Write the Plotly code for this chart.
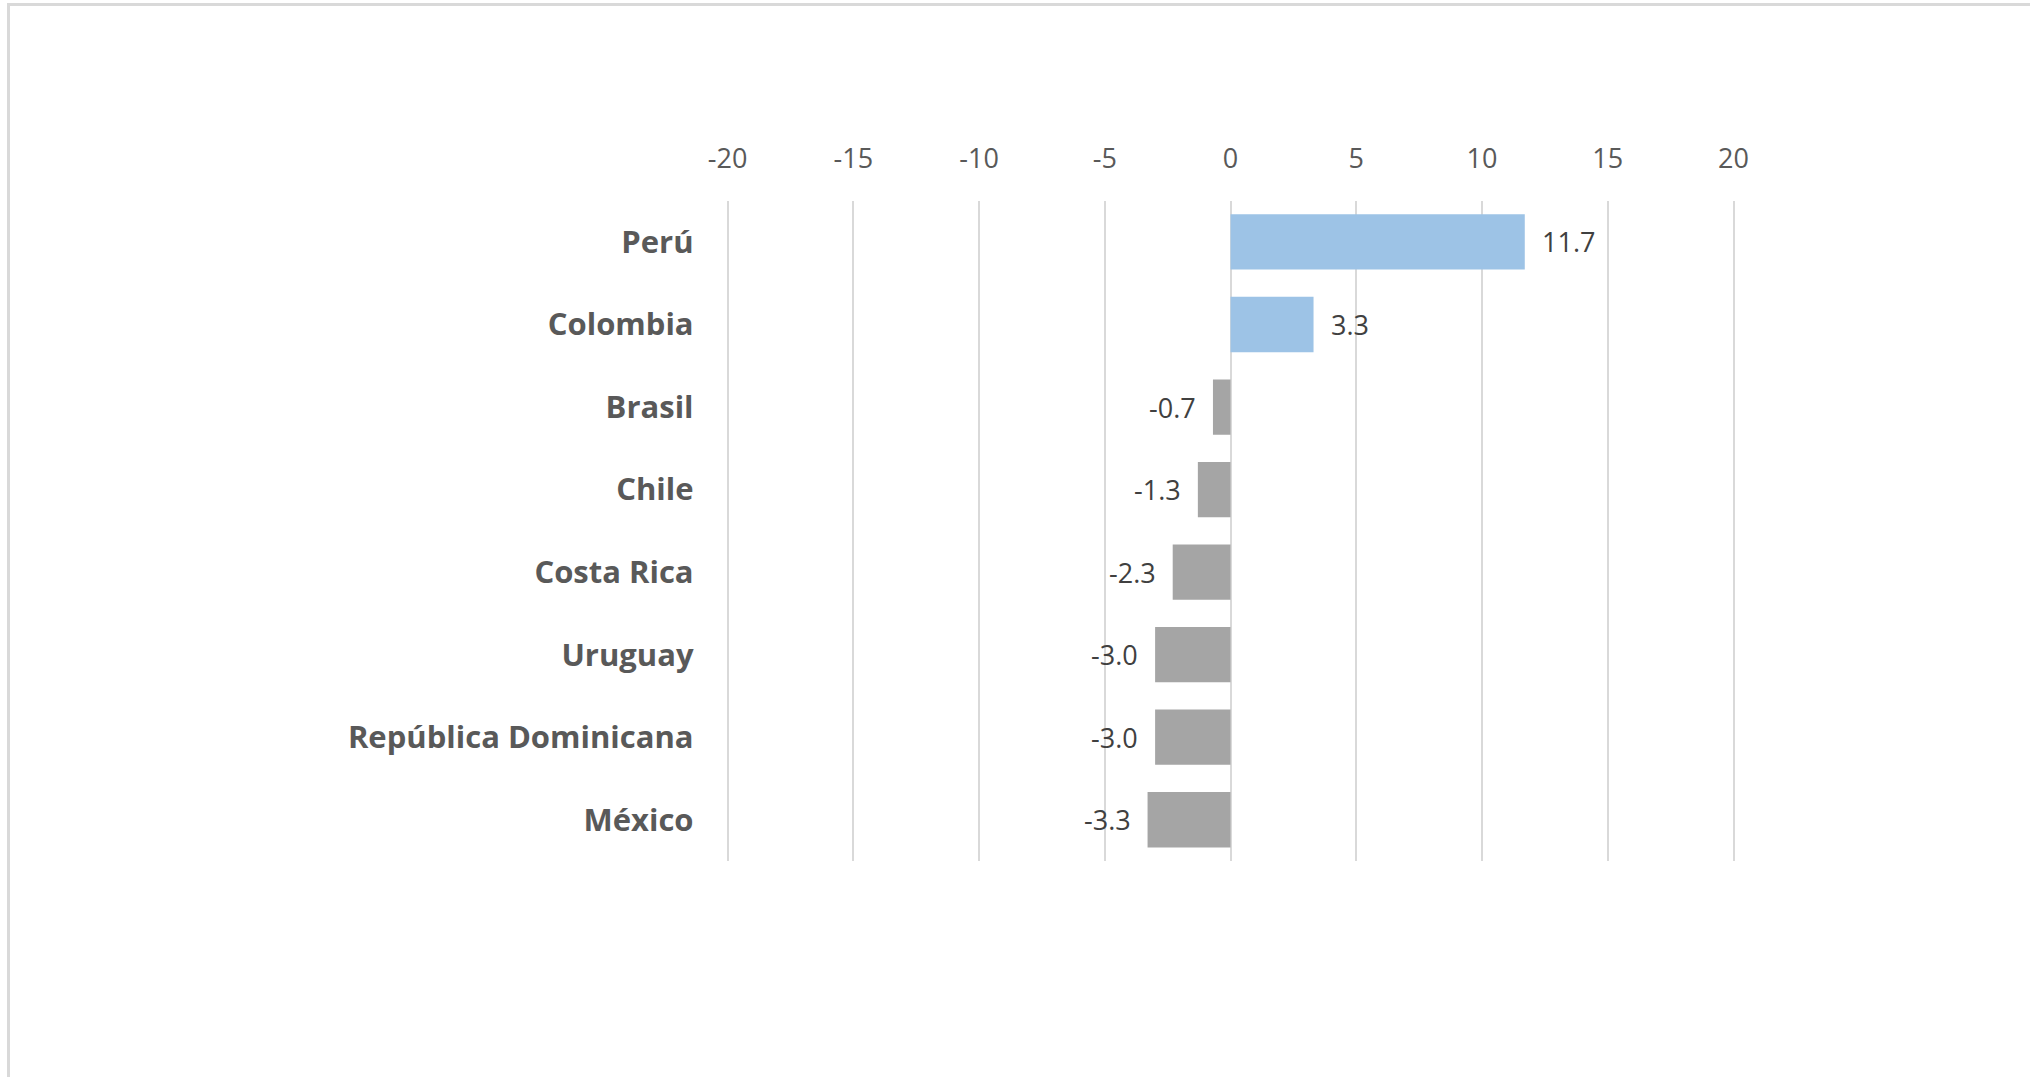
import plotly.graph_objects as go

countries = ["Perú", "Colombia", "Brasil", "Chile", "Costa Rica", "Uruguay",
             "República Dominicana", "México"]
values = [11.7, 3.3, -0.7, -1.3, -2.3, -3.0, -3.0, -3.3]
tick_vals = [-20, -15, -10, -5, 0, 5, 10, 15, 20]

POS_COLOR = "#9DC3E6"
NEG_COLOR = "#A5A5A5"
colors = [POS_COLOR if v >= 0 else NEG_COLOR for v in values]

W, H = 2030, 1077
PXU = (1733.5 - 727.6) / 40.0  # pixels per unit
PAD = 0.2  # small range padding so edge gridlines are drawn

fig = go.Figure()
fig.add_trace(go.Bar(
    x=values, y=countries, orientation="h",
    marker=dict(color=colors, line=dict(width=0)),
    width=0.67, hoverinfo="skip",
))

for c, v in zip(countries, values):
    fig.add_annotation(
        x=v, y=c, xref="x", yref="y",
        text=f"{v:.1f}", showarrow=False,
        xanchor="left" if v >= 0 else "right",
        xshift=15 if v >= 0 else -15,
        font=dict(family="Open Sans", size=27, color="#404040"),
    )

# outer chart border (only top and left visible in the crop)
fig.add_shape(type="rect", xref="paper", yref="paper",
              x0=8.5 / W, x1=1.05, y0=-0.05, y1=1 - 4.5 / H,
              line=dict(color="#D9D9D9", width=3), fillcolor="rgba(0,0,0,0)",
              layer="below")

fig.update_layout(
    width=W, height=H,
    margin=dict(l=0, r=0, t=0, b=0, pad=0, autoexpand=False),
    paper_bgcolor="white", plot_bgcolor="white",
    showlegend=False,
    xaxis=dict(
        domain=[(727.6 - PAD * PXU) / W, (1733.5 + PAD * PXU) / W],
        range=[-20 - PAD, 20 + PAD], side="top", automargin=False,
        tickvals=tick_vals, ticktext=[str(t) for t in tick_vals],
        showgrid=True, gridcolor="#D9D9D9", gridwidth=2,
        zeroline=True, zerolinecolor="#D9D9D9", zerolinewidth=2,
        showline=False, ticks="", ticklabelstandoff=26,
        tickfont=dict(family="Open Sans", size=27, color="#595959"),
    ),
    yaxis=dict(
        domain=[1 - 861 / H, 1 - 200.7 / H], automargin=False,
        autorange=False, range=[7.5, -0.5],
        categoryorder="array", categoryarray=countries,
        showgrid=False, zeroline=False, showline=False, ticks="",
        ticklabelstandoff=28,
        tickfont=dict(family="Open Sans", size=31, color="#595959", weight="bold"),
    ),
)

fig.write_html("out.html", config={"displayModeBar": False},
               post_script="document.body.style.margin='0';")
